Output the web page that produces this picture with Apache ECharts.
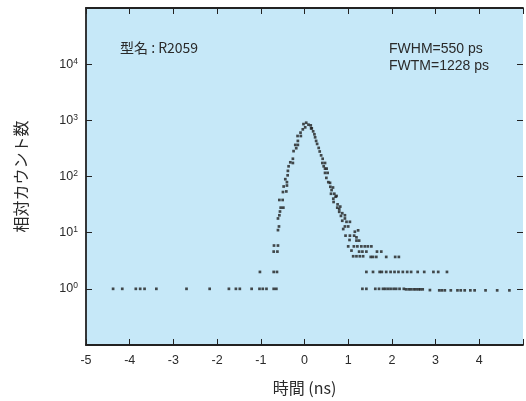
<!DOCTYPE html>
<html>
<head>
<meta charset="utf-8">
<script src="https://cdn.jsdelivr.net/npm/echarts@6/dist/echarts.min.js"></script>
<style>
html,body{margin:0;padding:0;background:#fff;}
#chart{width:526px;height:401px;}
</style>
</head>
<body>
<div id="chart"></div>
<script>
// ---- data ----
const timeNs = [
  // left baseline
  -4.38,-4.17,-3.86,-3.76,-3.66,-3.39,-2.70,-2.17,-1.73,-1.57,-1.48,-1.21,-1.03,-0.955,-0.87,-0.705,-0.644,
  -1.02,
  // rising edge
  -0.705,-0.63,-0.705,-0.62,-0.698,-0.607,-0.607,-0.584,-0.607,-0.575,-0.561,-0.545,-0.484,-0.575,-0.50,
  -0.493,-0.416,-0.477,-0.402,-0.402,-0.439,-0.386,-0.380,-0.364,-0.325,-0.266,-0.266,-0.250,-0.189,
  -0.211,-0.152,-0.152,-0.159,-0.084,-0.091,-0.039,0.016,-0.023,0.039,0.091,0.143,0.152,
  // falling edge
  0.166,0.198,0.227,0.243,0.266,0.289,0.325,0.348,0.380,0.416,0.409,0.470,0.439,0.470,0.507,0.470,0.530,
  0.500,0.545,0.584,0.591,0.652,0.620,0.607,0.682,0.734,0.711,0.659,0.666,0.757,0.818,0.750,0.795,0.795,
  0.864,0.834,0.925,0.925,0.864,0.961,1.039,0.925,1.000,0.886,1.152,1.227,0.939,1.039,1.136,1.189,1.030,
  1.189,1.250,
  // tail rows
  1.000,1.130,1.210,1.300,1.380,1.450,1.530,
  1.075,1.250,1.325,1.416,1.659,1.757,
  1.114,1.189,1.266,1.341,1.516,1.568,1.643,1.870,2.075,2.159,
  1.416,1.568,1.720,1.770,1.870,1.970,2.060,2.150,2.250,2.350,2.440,2.590,2.740,2.950,3.060,3.260,
  1.325,1.416,1.620,1.705,1.795,1.848,1.909,1.970,2.039,2.098,2.175,2.273,2.325,2.386,2.439,2.500,2.552,
  2.607,2.652,2.705,2.870,3.084,3.143,3.211,3.348,3.500,3.575,3.666,3.795,3.893,4.143,4.409,4.689
];
const counts = [
  1,1,1,1,1,1,1,1,1,1,1,1,1,1,1,1,1,
  2,
  2,2,4.6,4.6,5.9,5.9,11.1,12.9,17.9,20.4,23.8,27.9,27.9,38.2,38.2,
  52.9,54.2,66.4,69.1,79.3,89.6,105,126,152,179,174,207,283,319,
  365,365,430,526,526,604,691,750,857,907,836,813,720,
  720,637,564,499,430,380,323,279,238,207,174,174,152,138,138,116,116,
  94.5,79.3,77.1,65.6,63.7,57.3,49.3,49.3,45,43.7,40.3,35.2,31.9,29.1,27.9,26.1,23.5,
  22.2,19.9,20.4,17.9,16.3,15.6,15.6,12.9,12.9,11.6,10.4,11.0,8.85,8.85,8.85,8.26,7.41,
  7.22,7.22,
  5.7,5.7,5.7,5.7,5.7,5.7,5.7,
  4.8,4.6,4.6,4.6,4.6,4.6,
  3.8,3.8,3.8,3.8,3.7,3.7,3.7,3.7,3.7,3.7,
  2,2,2,2,2,2,2,2,2,2,2,2,2,2,2,2,
  1,1,1,1,1,1,1,1,1,1,1,1,0.98,0.98,0.98,0.98,0.98,
  0.98,0.98,0.98,0.95,0.94,0.94,0.94,0.94,0.94,0.94,0.94,0.94,0.94,0.94,0.94,0.94
];
const xTickLabels = ['-5','-4','-3','-2','-1','0','1','2','3','4'];
const yTickExponents = [0,1,2,3,4];
const xAxisTitle = '時間 (ns)';
const yAxisTitle = '相対カウント数';
const noteModel = '型名 : R2059';
const noteFwhm = 'FWHM=550 ps';
const noteFwtm = 'FWTM=1228 ps';

const points = timeNs.map((t, i) => [t, counts[i]]);

const axisColor = '#222';
const textColor = '#2a2a2a';
const fontFam = 'Liberation Sans, Arial, "Noto Sans CJK JP", sans-serif';
const cjkFam = '"Noto Sans CJK JP", sans-serif';

const chart = echarts.init(document.getElementById('chart'), null, {renderer: 'canvas'});
chart.setOption({
  animation: false,
  backgroundColor: '#ffffff',
  grid: {left: 86, top: 8, right: 0, bottom: 52, show: true, backgroundColor: '#c6e8f8', borderWidth: 0},
  xAxis: [{
    type: 'value', min: -5, max: 5, interval: 1, position: 'bottom',
    axisLine: {show: true, onZero: false, lineStyle: {color: axisColor, width: 1.8}},
    axisTick: {show: true, inside: true, length: 6, lineStyle: {color: axisColor, width: 1}},
    splitLine: {show: false},
    axisLabel: {
      margin: 9, color: textColor, fontSize: 12.5, fontFamily: fontFam,
      formatter: v => { const s = String(Math.round(v)); return xTickLabels.indexOf(s) >= 0 ? s : ''; }
    },
    name: xAxisTitle, nameLocation: 'middle', nameGap: 35,
    nameTextStyle: {color: textColor, fontSize: 16, fontFamily: cjkFam}
  }, {
    type: 'value', min: -5, max: 5, interval: 1, position: 'top',
    axisLine: {show: true, onZero: false, lineStyle: {color: axisColor, width: 1.8}},
    axisTick: {show: true, inside: true, length: 6, lineStyle: {color: axisColor, width: 1}},
    splitLine: {show: false}, axisLabel: {show: false}
  }],
  yAxis: [{
    type: 'log', logBase: 10, min: 0.1, max: 100000, position: 'left',
    axisLine: {show: true, onZero: false, lineStyle: {color: axisColor, width: 1.8}},
    axisTick: {show: true, inside: true, length: 6, lineStyle: {color: axisColor, width: 1}},
    splitLine: {show: false}, minorTick: {show: false},
    axisLabel: {
      margin: 8, color: textColor, fontFamily: fontFam,
      formatter: v => {
        const e = Math.round(Math.log10(v));
        if (yTickExponents.indexOf(e) < 0) return '';
        return '{b|10}{s|' + e + '}';
      },
      rich: {
        b: {fontSize: 12.5, lineHeight: 14, color: textColor, fontFamily: fontFam},
        s: {fontSize: 8.5, lineHeight: 8, verticalAlign: 'top', color: textColor, fontFamily: fontFam}
      }
    },
    name: yAxisTitle, nameLocation: 'middle', nameGap: 57, nameRotate: 90,
    nameTextStyle: {color: textColor, fontSize: 16, fontFamily: cjkFam}
  }, {
    type: 'log', logBase: 10, min: 0.1, max: 100000, position: 'right',
    axisLine: {show: false, onZero: false},
    axisTick: {show: true, inside: true, length: 6, lineStyle: {color: axisColor, width: 1}},
    splitLine: {show: false}, axisLabel: {show: false}
  }],
  graphic: [
    {type: 'text', left: 120, top: 41, style: {text: noteModel, fill: textColor, fontSize: 14, fontFamily: cjkFam}},
    {type: 'text', left: 389, top: 42, style: {text: noteFwhm, fill: textColor, fontSize: 14, fontFamily: fontFam}},
    {type: 'text', left: 389, top: 59, style: {text: noteFwtm, fill: textColor, fontSize: 14, fontFamily: fontFam}}
  ],
  series: [{
    type: 'scatter', xAxisIndex: 0, yAxisIndex: 0,
    data: points, symbol: 'rect', symbolSize: 2.7,
    itemStyle: {color: '#1e1e1e'}, silent: true
  }]
});
</script>
</body>
</html>
